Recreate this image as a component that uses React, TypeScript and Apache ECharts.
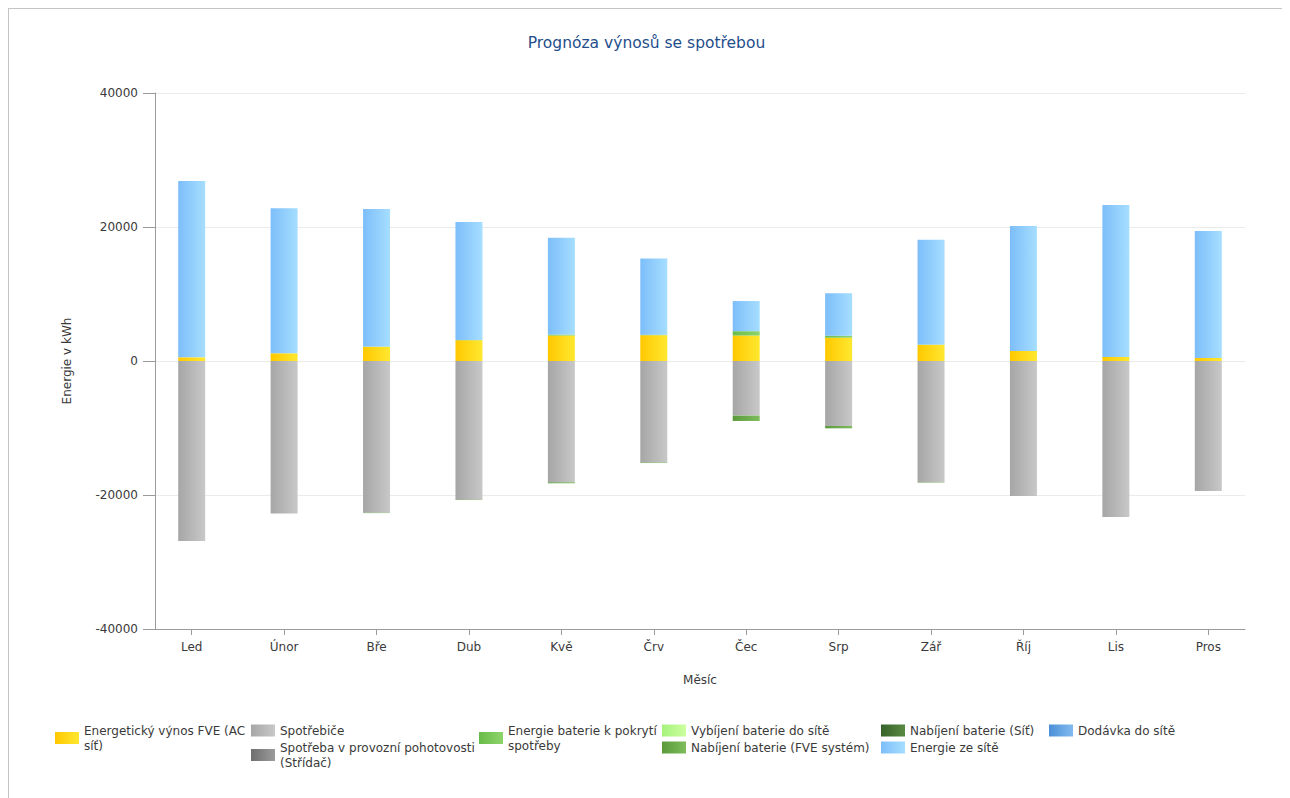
import React, { useEffect, useRef } from "react";
import * as echarts from "echarts";

const months = ["Led", "Únor", "Bře", "Dub", "Kvě", "Črv", "Čec", "Srp", "Zář", "Říj", "Lis", "Pros"];
const yTicks = { min: -40000, max: 40000, interval: 20000 };

const fveYield = [550, 1150, 2100, 3100, 3800, 3850, 3800, 3480, 2400, 1500, 600, 450];
const appliances = [-26850, -22750, -22650, -20700, -18100, -15150, -8150, -9700, -18100, -20150, -23300, -19400];
const standby = [0, 0, 0, 0, 0, 0, 0, 0, 0, 0, 0, 0];
const batteryCover = [0, 0, 50, 50, 150, 80, 650, 300, 50, 0, 0, 0];
const batteryToGrid = [0, 0, 0, 0, 0, 0, 0, 0, 0, 0, 0, 0];
const batteryChargePv = [0, 0, -50, -50, -150, -80, -800, -350, -60, 0, 0, 0];
const batteryChargeGrid = [0, 0, 0, 0, 0, 0, 0, 0, 0, 0, 0, 0];
const gridImport = [26300, 21650, 20550, 17600, 14450, 11370, 4500, 6320, 15650, 18650, 22700, 18950];
const gridExport = [0, 0, 0, 0, 0, 0, 0, 0, 0, 0, 0, 0];

const FONT = "DejaVu Sans";

const grad = (a: string, b: string) =>
  new echarts.graphic.LinearGradient(0, 0, 1, 0, [
    { offset: 0, color: a },
    { offset: 1, color: b },
  ]);

const seriesDefs = [
  { name: "Energetický výnos FVE (AC síť)", data: fveYield, c: ["#FFC800", "#FFE830"] },
  { name: "Spotřebiče", data: appliances, c: ["#A6A6A6", "#C8C8C8"] },
  { name: "Spotřeba v provozní pohotovosti (Střídač)", data: standby, c: ["#6E6E6E", "#9C9C9C"] },
  { name: "Energie baterie k pokrytí spotřeby", data: batteryCover, c: ["#69BC48", "#8ED46C"] },
  { name: "Vybíjení baterie do sítě", data: batteryToGrid, c: ["#A6F27E", "#CCFF9E"] },
  { name: "Nabíjení baterie (FVE systém)", data: batteryChargePv, c: ["#5A9A3A", "#7EBC5C"] },
  { name: "Nabíjení baterie (Síť)", data: batteryChargeGrid, c: ["#36622A", "#5A8A42"] },
  { name: "Energie ze sítě", data: gridImport, c: ["#7DBEFA", "#A6DEFF"] },
  { name: "Dodávka do sítě", data: gridExport, c: ["#4A8FD6", "#82BAF0"] },
];

const wrapped: Record<string, string> = {
  "Energetický výnos FVE (AC síť)": "Energetický výnos FVE (AC\nsíť)",
  "Spotřeba v provozní pohotovosti (Střídač)": "Spotřeba v provozní pohotovosti\n(Střídač)",
  "Energie baterie k pokrytí spotřeby": "Energie baterie k pokrytí\nspotřeby",
};

const legendCols: { left: number; names: string[] }[] = [
  { left: 46, names: [seriesDefs[0].name] },
  { left: 242, names: [seriesDefs[1].name, seriesDefs[2].name] },
  { left: 470, names: [seriesDefs[3].name] },
  { left: 653, names: [seriesDefs[4].name, seriesDefs[5].name] },
  { left: 872, names: [seriesDefs[6].name, seriesDefs[7].name] },
  { left: 1040, names: [seriesDefs[8].name] },
];

export default function App() {
  const ref = useRef<HTMLDivElement>(null);
  useEffect(() => {
    if (!ref.current) return;
    const chart = echarts.init(ref.current, undefined, { renderer: "svg" });
    const axisColor = "#9a9a9a";
    const labelColor = "#3a3a3a";
    chart.setOption({
      animation: false,
      textStyle: { fontFamily: FONT },
      title: {
        text: "Prognóza výnosů se spotřebou",
        left: "center",
        top: 26,
        padding: 0,
        textStyle: { fontFamily: FONT, fontSize: 15.5, fontWeight: "normal", color: "#1F4E8C" },
      },
      grid: [
        { left: 146, top: 84, width: 1090, height: 536 },
        { left: 136.5, top: 84, width: 1109, height: 536 },
      ],
      xAxis: [
        {
          type: "category",
          gridIndex: 0,
          data: months,
          name: "Měsíc",
          nameLocation: "middle",
          nameGap: 45,
          nameTextStyle: { fontFamily: FONT, fontSize: 12, color: labelColor },
          axisLine: { show: true, onZero: false, lineStyle: { color: axisColor } },
          axisTick: { show: false },
          axisLabel: { show: false },
          splitLine: { show: false },
        },
        {
          type: "category",
          gridIndex: 1,
          data: months,
          axisLine: { show: false, onZero: false },
          axisTick: { show: true, alignWithLabel: true, length: 6, lineStyle: { color: axisColor } },
          axisLabel: { margin: 12, fontFamily: FONT, fontSize: 12, color: labelColor },
          splitLine: { show: false },
        },
      ],
      yAxis: [
        {
          type: "value",
          gridIndex: 0,
          min: yTicks.min,
          max: yTicks.max,
          interval: yTicks.interval,
          name: "Energie v kWh",
          nameLocation: "middle",
          nameGap: 82,
          nameTextStyle: { fontFamily: FONT, fontSize: 12, color: labelColor },
          axisLine: { show: true, lineStyle: { color: axisColor } },
          axisTick: { show: true, length: 12, lineStyle: { color: axisColor } },
          axisLabel: {
            margin: 17,
            fontFamily: FONT,
            fontSize: 12,
            color: labelColor,
            formatter: (v: number) => String(v),
          },
          splitLine: { show: true, lineStyle: { color: "#ebebeb" } },
        },
        {
          type: "value",
          gridIndex: 1,
          min: yTicks.min,
          max: yTicks.max,
          interval: yTicks.interval,
          show: false,
          splitLine: { show: false },
        },
      ],
      legend: legendCols.map((col) => ({
        orient: "vertical",
        left: col.left,
        top: 714,
        padding: 0,
        itemGap: 2,
        itemWidth: 24,
        itemHeight: 12,
        icon: "rect",
        data: col.names,
        formatter: (n: string) => wrapped[n] || n,
        textStyle: { fontFamily: FONT, fontSize: 12, color: labelColor, lineHeight: 15 },
      })),
      series: seriesDefs.map((s) => ({
        type: "bar",
        name: s.name,
        stack: "total",
        xAxisIndex: 1,
        yAxisIndex: 1,
        barWidth: 27,
        data: s.data.map((v) => (v === 0 ? null : v)),
        itemStyle: { color: grad(s.c[0], s.c[1]) },
      })),
    });
    return () => chart.dispose();
  }, []);
  return (
    <div style={{ width: 1275, height: 790, border: "1px solid #c4c4c4" }}>
      <div ref={ref} style={{ width: 1275, height: 790 }} />
    </div>
  );
}
